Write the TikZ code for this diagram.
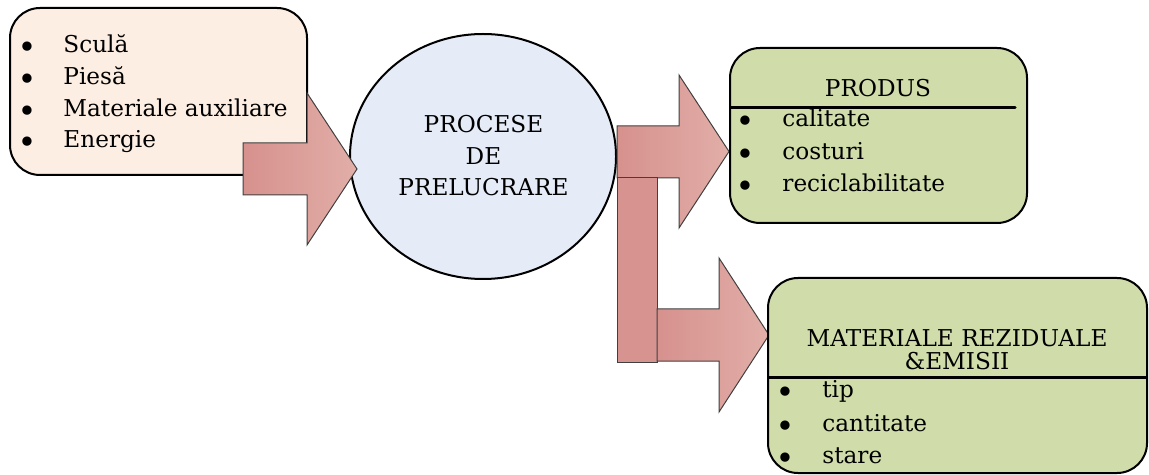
\documentclass[tikz,border=0pt]{standalone}
\usepackage{fontspec}
\setmainfont{DejaVu Serif}
\usetikzlibrary{shapes.geometric}

\definecolor{inputfill}{HTML}{FDEEE3}
\definecolor{procfill}{HTML}{E6ECF7}
\definecolor{outfill}{HTML}{D0DCA9}
\definecolor{arrowdark}{HTML}{D6918D}
\definecolor{arrowlight}{HTML}{E2AEA8}
\definecolor{barfill}{HTML}{D79390}
\definecolor{arrowline}{HTML}{404040}

\begin{document}
\begin{tikzpicture}[x=0.5pt,y=-0.5pt,
  txt/.style={font=\fontsize{11.6}{13}\selectfont, inner sep=0pt, anchor=base west},
  ctxt/.style={txt, anchor=base},
  bul/.style={font=\fontsize{16}{16}\selectfont, inner sep=0pt, anchor=base, yshift=-3pt},
  roundbox/.style={draw=black, line width=1pt, rounded corners=15pt, inner sep=0pt},
  blockarrow/.style={draw=arrowline, line width=0.5pt, left color=arrowdark, right color=arrowlight},
  divider/.style={line width=1.5pt}]

\useasboundingbox (0,0) rectangle (1149,475);

% input box
\node[roundbox, fill=inputfill, minimum width=148.5pt, minimum height=83.5pt] (inbox) at (158.5,91.5) {};
\node[bul] (ib1) at (27,53) {•};
\node[txt] (it1) at (63,53) {Sculă};
\node[bul] (ib2) at (27,85) {•};
\node[txt] (it2) at (63,85) {Piesă};
\node[bul] (ib3) at (27,116.5) {•};
\node[txt] (it3) at (63,116.5) {Materiale auxiliare};
\node[bul] (ib4) at (27,148) {•};
\node[txt] (it4) at (63,148) {Energie};

% process ellipse
\node[ellipse, draw=black, line width=1pt, fill=procfill, minimum width=133pt, minimum height=122.5pt, inner sep=0pt] (proc) at (483,156.5) {};
\node[ctxt] (pt1) at (483.5,133) {PROCESE};
\node[ctxt] (pt2) at (483.5,164.5) {DE};
\node[ctxt] (pt3) at (483.5,196) {PRELUCRARE};

% block arrows
\draw[blockarrow] (243,143) -- (307,143) -- (307,93) -- (357,169) -- (307,245) -- (307,195) -- (243,195) -- cycle;
\draw[blockarrow] (617,126) -- (679,126) -- (679,75) -- (729,151.5) -- (679,228) -- (679,178) -- (617,178) -- cycle;
\draw[draw=arrowline, line width=0.5pt, fill=barfill] (617,178) rectangle (657,362);
\draw[blockarrow] (657,309) -- (719,309) -- (719,258) -- (769,335) -- (719,412) -- (719,361) -- (657,361) -- cycle;

% product box
\node[roundbox, fill=outfill, minimum width=148.5pt, minimum height=87.5pt] (prod) at (878.5,135.5) {};
\node[ctxt] (prodtitle) at (878,97) {PRODUS};
\draw[divider, line cap=round] (730.5,108) -- (1015,108);
\node[bul] (pb1) at (745,127) {•};
\node[txt] (pt1b) at (782,127) {calitate};
\node[bul] (pb2) at (745,159.5) {•};
\node[txt] (pt2b) at (782,159.5) {costuri};
\node[bul] (pb3) at (745,192) {•};
\node[txt] (pt3b) at (782,192) {reciclabilitate};

% residual materials box
\node[roundbox, fill=outfill, minimum width=189.5pt, minimum height=97.5pt] (rez) at (957.5,375.5) {};
\node[ctxt] (rt1) at (957,346) {MATERIALE REZIDUALE};
\node[ctxt] (rt2) at (957,369) {\&EMISII};
\draw[divider] (768,377) -- (1147,377);
\node[bul] (rb1) at (785,397) {•};
\node[txt] (rl1) at (822,397) {tip};
\node[bul] (rb2) at (785,431) {•};
\node[txt] (rl2) at (822,431) {cantitate};
\node[bul] (rb3) at (785,463) {•};
\node[txt] (rl3) at (822,463) {stare};
\end{tikzpicture}
\end{document}
